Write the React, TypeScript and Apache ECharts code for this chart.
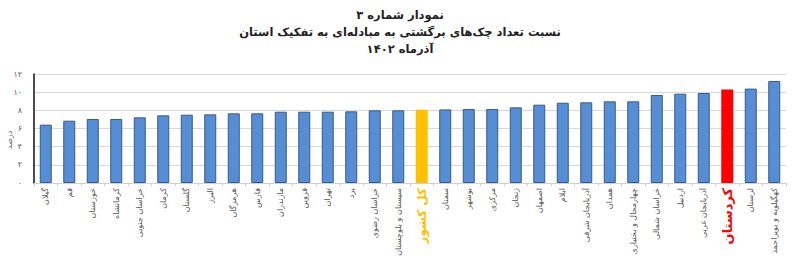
import React, { useEffect, useRef } from "react";
import * as echarts from "echarts";

const titleLines = ["نمودار شماره ۳", "نسبت تعداد چک‌های برگشتی به مبادله‌ای به تفکیک استان", "آذرماه ۱۴۰۲"];
const yAxisTitle = "درصد";
const categories = [
  "گیلان", "قم", "خوزستان", "کرمانشاه", "خراسان جنوبی", "کرمان", "گلستان", "البرز",
  "هرمزگان", "فارس", "مازندران", "قزوین", "تهران", "یزد", "خراسان رضوی", "سیستان و بلوچستان",
  "کل کشور", "سمنان", "بوشهر", "مرکزی", "زنجان", "اصفهان", "ایلام", "آذربایجان شرقی",
  "همدان", "چهارمحال و بختیاری", "خراسان شمالی", "اردبیل", "آذربایجان غربی", "کردستان", "لرستان", "کهگیلویه و بویراحمد",
];
const values = [
  6.42, 6.86, 7.05, 7.05, 7.23, 7.45, 7.52, 7.56,
  7.67, 7.67, 7.85, 7.85, 7.85, 7.89, 8.0, 8.0,
  8.07, 8.1, 8.14, 8.14, 8.33, 8.62, 8.84, 8.88,
  8.99, 8.99, 9.69, 9.83, 9.91, 10.28, 10.39, 11.23,
];
const yTickLabels = ["۰", "۲", "۴", "۶", "۸", "۱۰", "۱۲"];
const nationalName = "کل کشور";
const highlightName = "کردستان";

const FONT = "DejaVu Sans";

export default function App() {
  const ref = useRef<HTMLDivElement>(null);
  useEffect(() => {
    if (!ref.current) return;
    const chart = echarts.init(ref.current, null, { renderer: "svg" });
    chart.setOption({
      animation: false,
      backgroundColor: "#ffffff",
      textStyle: { fontFamily: FONT },
      graphic: [
        ...titleLines.map((t, i) => ({
          type: "text",
          left: "center",
          top: 9 + i * 17,
          style: { text: t, fontFamily: FONT, fontSize: 11.5, fontWeight: "bold", fill: "#222" },
        })),
        {
          type: "text",
          x: 9,
          y: 140,
          rotation: Math.PI / 2,
          style: { text: yAxisTitle, fontFamily: FONT, fontSize: 8, fill: "#666", align: "center", verticalAlign: "middle" },
        },
      ],
      grid: { left: 34, right: 14, top: 74, bottom: 82 },
      xAxis: {
        type: "category",
        data: categories,
        axisLine: { lineStyle: { color: "#d0d0d0" } },
        axisTick: { show: true, alignWithLabel: false, length: 3, lineStyle: { color: "#d0d0d0" } },
        axisLabel: {
          interval: 0,
          rotate: 90,
          fontSize: 8,
          color: "#555",
          margin: 5,
          fontFamily: FONT,
          formatter: (v: string) => {
            if (v === nationalName) return "{nat|" + v + "}";
            if (v === highlightName) return "{hl|" + v + "}";
            return v;
          },
          rich: {
            nat: { color: "#FFC000", fontWeight: "bold", fontSize: 12, fontFamily: FONT },
            hl: { color: "#FF0000", fontWeight: "bold", fontSize: 13, fontFamily: FONT },
          },
        },
      },
      yAxis: {
        type: "value",
        min: 0,
        max: 12,
        interval: 2,
        axisLine: { show: true, lineStyle: { color: "#111", width: 1.5 } },
        axisTick: { show: false },
        splitLine: { lineStyle: { color: "#d9d9d9" } },
        axisLabel: {
          fontSize: 8,
          color: "#555",
          margin: 12,
          formatter: (v: number) => yTickLabels[Math.round(v / 2)] ?? String(v),
        },
      },
      series: [
        {
          type: "bar",
          barWidth: 12,
          data: categories.map((c, i) => {
            if (c === nationalName) return { value: values[i], itemStyle: { color: "#FFC000", borderWidth: 0 } };
            if (c === highlightName) return { value: values[i], itemStyle: { color: "#FF0000", borderWidth: 0 } };
            return values[i];
          }),
          itemStyle: { color: "#558ED5", borderColor: "#3A5A80", borderWidth: 1 },
        },
      ],
    });
    return () => chart.dispose();
  }, []);
  return <div ref={ref} style={{ width: 800, height: 265, margin: -8 }} />;
}
